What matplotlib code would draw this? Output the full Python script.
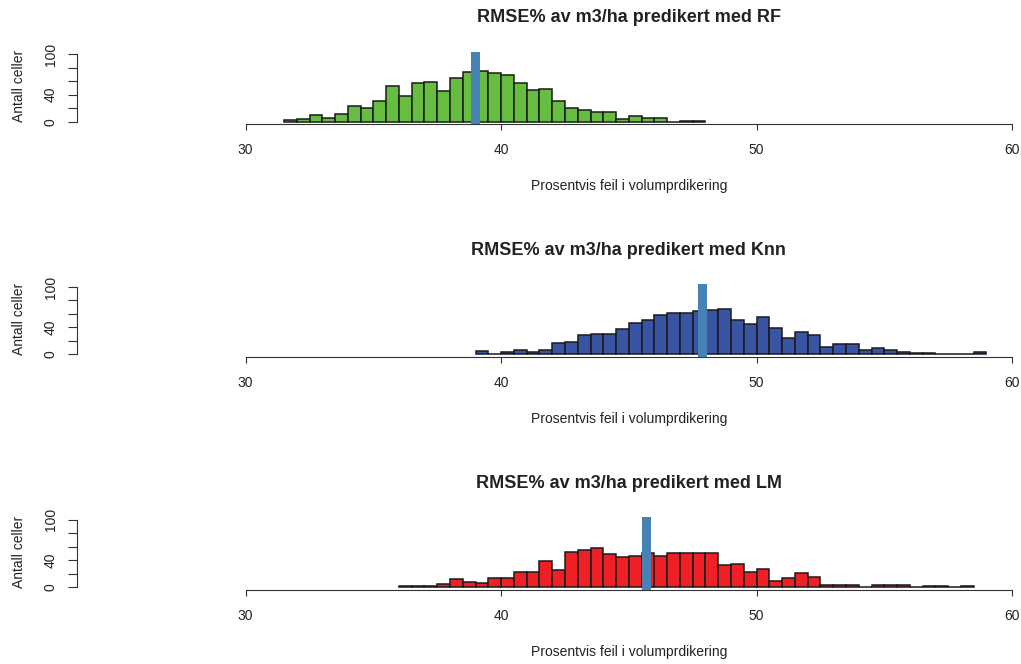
import matplotlib.pyplot as plt
import numpy as np

plt.rcParams['font.family'] = ['Liberation Sans', 'DejaVu Sans']

# histogram counts, bins are 0.5 wide, first left edge given
rf_start = 31.5
rf_counts = [2, 4, 10, 6, 12, 23, 20, 31, 53, 38, 57, 59, 45, 65, 73, 75,
             72, 70, 57, 47, 49, 31, 20, 18, 14, 14, 4, 8, 6, 6, 0, 1, 1]
rf_mean = 38.97

knn_start = 39.0
knn_counts = [5, 0, 3, 7, 3, 7, 17, 19, 29, 31, 31, 37, 47, 51, 59, 61, 61,
              64, 66, 68, 51, 45, 55, 39, 25, 33, 29, 11, 15, 15, 7, 9, 7,
              4, 2, 2, 0, 0, 0, 3]
knn_mean = 47.85

lm_start = 36.0
lm_counts = [2, 2, 2, 5, 12, 8, 6, 14, 14, 23, 23, 39, 26, 53, 55, 59, 49,
             45, 47, 51, 47, 51, 51, 51, 51, 33, 35, 23, 27, 10, 14, 21, 16,
             4, 4, 4, 0, 4, 4, 4, 0, 2, 2, 0, 2]
lm_mean = 45.68

titles = ["RMSE% av m3/ha predikert med RF",
          "RMSE% av m3/ha predikert med Knn",
          "RMSE% av m3/ha predikert med LM"]
xlabel = "Prosentvis feil i volumprdikering"
ylabel = "Antall celler"
xticks = [30, 40, 50, 60]
yticks = [0, 20, 40, 60, 80, 100]
yticklabels = ["0", "", "40", "", "", "100"]

W, H = 1021., 664.
fig = plt.figure(figsize=(W / 100, H / 100), dpi=100)


def panel(zero_px, start, counts, mean, color, title):
    ppc = 0.674  # pixels per count
    top_px = zero_px - 104 * ppc
    bot_px = zero_px + 4 * ppc
    ax = fig.add_axes([215 / W, 1 - bot_px / H, 827.7 / W, (bot_px - top_px) / H])
    edges = start + 0.5 * np.arange(len(counts))
    ax.bar(edges, counts, width=0.5, align='edge', color=color,
           edgecolor='#1a1a1a', linewidth=1.1, zorder=2)
    ax.axvline(mean, color='#4682B4', linewidth=6.5, zorder=3)
    ax.set_xlim(28.8, 61.2)
    ax.set_ylim(-4, 104)

    for s in ['top', 'right']:
        ax.spines[s].set_visible(False)
    ax.spines['bottom'].set_bounds(30, 60)
    ax.spines['left'].set_bounds(0, 100)
    ax.spines['left'].set_position(('outward', 138 * 0.72))
    ax.spines['bottom'].set_color('#333333')
    ax.spines['left'].set_color('#333333')

    ax.set_xticks(xticks)
    ax.set_xticklabels([str(t) for t in xticks])
    ax.set_yticks(yticks)
    ax.set_yticklabels(yticklabels, rotation=90, va='center')
    ax.tick_params(axis='x', length=4.2, width=0.8, pad=9.5, labelsize=10,
                   color='#333333', labelcolor='#222222')
    ax.tick_params(axis='y', length=6.3, width=0.8, pad=7.5, labelsize=10,
                   color='#333333', labelcolor='#222222')

    ax.annotate(title, xy=(0.5, 1), xycoords='axes fraction',
                xytext=(0, 34 * 0.72), textcoords='offset points',
                ha='center', va='center', fontsize=13, fontweight='bold',
                color='#222222')
    ax.annotate(xlabel, xy=(0.5, 0), xycoords='axes fraction',
                xytext=(0, -62 * 0.72), textcoords='offset points',
                ha='center', va='center', fontsize=10, color='#222222')
    ax.set_ylabel(ylabel, fontsize=10, color='#222222')
    ax.yaxis.label.set_va('center')
    ax.yaxis.set_label_coords((19 - 215) / 827.7, 0.5 + 2 / 72.8)
    return ax


panel(121.7, rf_start, rf_counts, rf_mean, '#66BD40', titles[0])
panel(354.4, knn_start, knn_counts, knn_mean, '#3A54A4', titles[1])
panel(587.3, lm_start, lm_counts, lm_mean, '#EE1F25', titles[2])

plt.savefig("out.png", dpi=100)
